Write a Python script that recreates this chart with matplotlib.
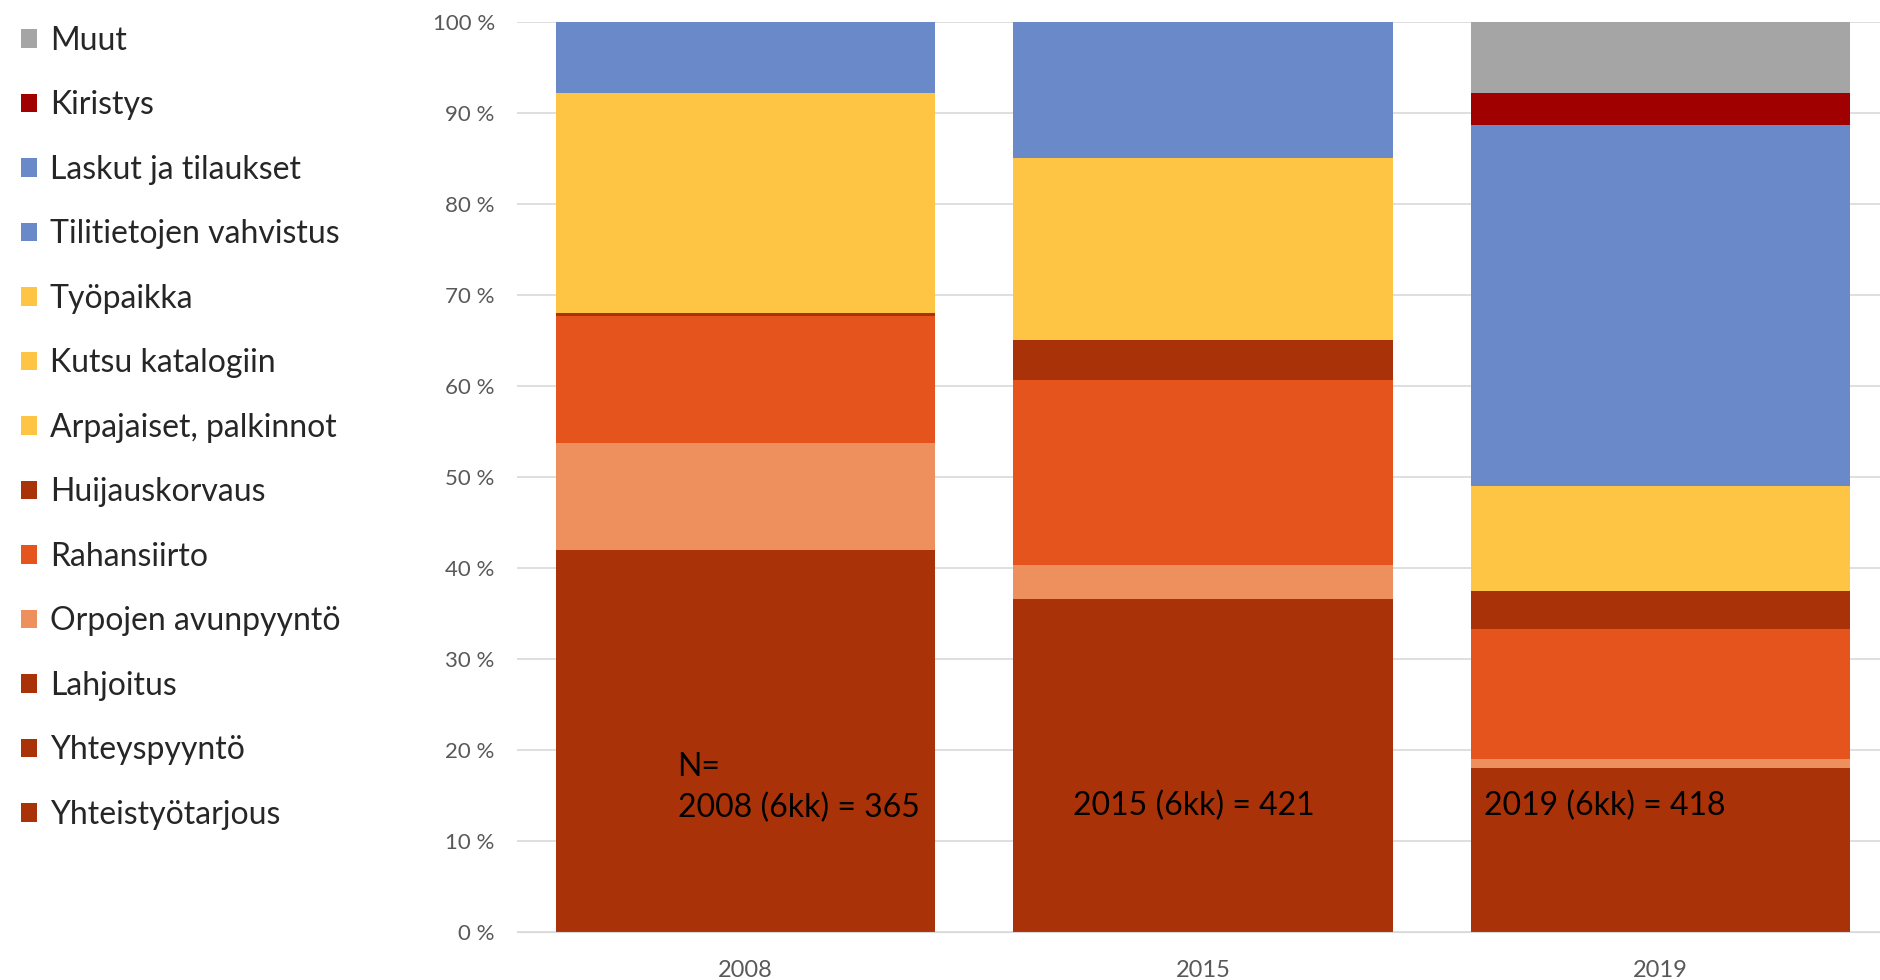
import matplotlib.pyplot as plt
import numpy as np
from matplotlib.patches import Patch

plt.rcParams['font.family'] = ['Lato', 'DejaVu Sans']

# data (percent of messages per year)
years = ['2008', '2015', '2019']
categories = ['Yhteistyötarjous', 'Yhteyspyyntö', 'Lahjoitus', 'Orpojen avunpyyntö',
              'Rahansiirto', 'Huijauskorvaus', 'Arpajaiset, palkinnot', 'Kutsu katalogiin',
              'Työpaikka', 'Tilitietojen vahvistus', 'Laskut ja tilaukset', 'Kiristys', 'Muut']
yhteistyotarjous = [20.0, 18.0, 9.0]
yhteyspyynto = [12.0, 10.6, 5.0]
lahjoitus = [10.0, 8.0, 4.0]
orpojen = [11.7, 3.7, 1.0]
rahansiirto = [14.0, 20.4, 14.3]
huijauskorvaus = [0.3, 4.4, 4.2]
arpajaiset = [16.2, 8.0, 3.5]
kutsu = [4.0, 6.0, 3.0]
tyopaikka = [4.0, 6.0, 5.0]
tilitietojen = [7.8, 14.9, 9.7]
laskut = [0.0, 0.0, 30.0]
kiristys = [0.0, 0.0, 3.5]
muut = [0.0, 0.0, 7.8]
n_texts = ['N=\n2008 (6kk) = 365', '2015 (6kk) = 421', '2019 (6kk) = 418']

series = [yhteistyotarjous, yhteyspyynto, lahjoitus, orpojen, rahansiirto, huijauskorvaus,
          arpajaiset, kutsu, tyopaikka, tilitietojen, laskut, kiristys, muut]
dark = '#AA3209'
yellow = '#FDC543'
blue = '#6A89C9'
colors = [dark, dark, dark, '#ED905E', '#E4541C', dark, yellow, yellow, yellow,
          blue, blue, '#A10000', '#A5A5A5']

fig = plt.figure(figsize=(18.81, 9.8), dpi=100)
ax = fig.add_axes([517 / 1881, 48 / 980, (1889 - 517) / 1881, (932 - 22) / 980])

x = np.arange(len(years))
bottom = np.zeros(len(years))
handles = []
for name, vals, c in zip(categories, series, colors):
    ax.bar(x, vals, width=0.83, bottom=bottom, color=c, linewidth=0)
    bottom += np.array(vals)
    handles.append(Patch(facecolor=c, edgecolor='none', label=name))

ax.set_xlim(-0.5, 2.5)
ax.set_ylim(0, 100)
ax.set_yticks(np.arange(0, 101, 10))
ax.set_yticklabels([f'{v} %' for v in range(0, 101, 10)])
ax.set_xticks(x)
ax.set_xticklabels(years)
ax.grid(axis='y', color='#d9d9d9', linewidth=1.2)
ax.set_axisbelow(True)
for s in ['top', 'right', 'left']:
    ax.spines[s].set_visible(False)
ax.spines['bottom'].set_color('#d9d9d9')
ax.tick_params(axis='y', length=0, pad=16, labelsize=16, labelcolor='#595959')
ax.tick_params(axis='x', length=0, pad=20, labelsize=17, labelcolor='#595959')

# sample size notes
ax.text(-0.149, 12.6, n_texts[0], fontsize=23, color='black', va='baseline',
        ha='left', linespacing=1.45)
ax.text(0.715, 12.8, n_texts[1], fontsize=23, color='black', ha='left')
ax.text(1.615, 12.8, n_texts[2], fontsize=23, color='black', ha='left')

fig.legend(handles[::-1], categories[::-1], loc='upper left', bbox_to_anchor=(-0.004, 1.003),
           frameon=False, fontsize=23, labelspacing=1.08, handlelength=0.5,
           handleheight=0.5, handletextpad=0.4, labelcolor='#262626')

fig.savefig('out.png', dpi=100)
